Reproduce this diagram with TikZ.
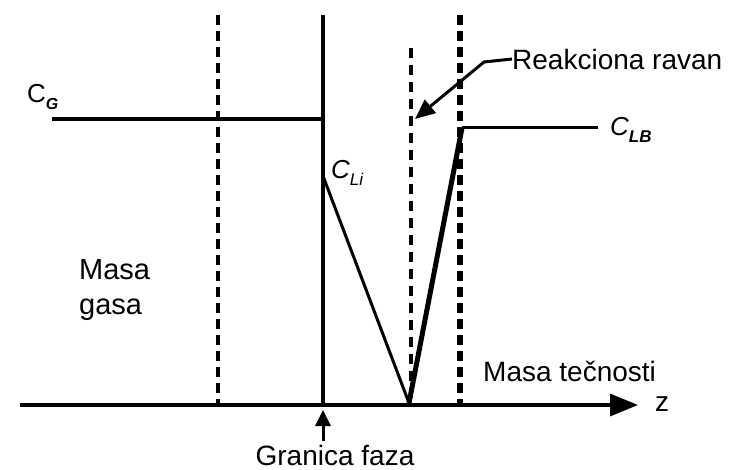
\documentclass[tikz,border=0pt]{standalone}
\usepackage{fontspec}
\setmainfont{Liberation Sans}
\usetikzlibrary{arrows.meta}
\begin{document}
\begin{tikzpicture}[x=1pt,y=-1pt,
  lbl/.style={inner sep=0pt, font=\fontsize{28}{32}\selectfont},
  pointer/.style={line width=3pt,-{Triangle[length=20pt,width=17pt]}}]
\useasboundingbox (0,0) rectangle (742,470);
% axis
\coordinate (a0) at (20,405);
\node[lbl] (z) at (662,404) {z};
\draw[line width=3.5pt,-{Triangle[length=28pt,width=22pt]}] (a0) -- (638,405);
% verticals
\coordinate (d1t) at (218,15); \coordinate (d1b) at (218,405);
\draw[line width=4.5pt, dash pattern=on 10pt off 6pt] (d1t) -- (d1b);
\coordinate (it) at (323,15); \coordinate (ib) at (323,405);
\draw[line width=3.5pt] (it) -- (ib);
\coordinate (rt) at (411,48); \coordinate (rb) at (411,405);
\draw[line width=4pt, dash pattern=on 10pt off 7pt] (rt) -- (rb);
\coordinate (d2t) at (460,15); \coordinate (d2b) at (460,405);
\draw[line width=5.5pt, dash pattern=on 10pt off 6pt] (d2t) -- (d2b);
% concentration profile
\coordinate (g0) at (52,119); \coordinate (g1) at (323,119);
\draw[line width=4.5pt] (g0) -- (g1);
\coordinate (li) at (323,176); \coordinate (bot) at (409,403);
\coordinate (lb) at (462,128); \coordinate (lb1) at (598,128);
\draw[line width=3pt] (li) -- (bot);
\draw[line width=5pt] (bot) -- (lb);
\draw[line width=3pt] (lb) -- (lb1);
% labels
\node[lbl, anchor=west] (cg) at (27,97) {\fontsize{26}{30}\selectfont C\raisebox{-7pt}{\fontsize{16}{18}\selectfont\bfseries\itshape G}};
\node[lbl, anchor=west] (cli) at (331,173) {\fontsize{26}{30}\selectfont\itshape C\raisebox{-7pt}{\fontsize{17}{18}\selectfont Li}};
\node[lbl, anchor=west] (clb) at (610,130) {\fontsize{26}{30}\selectfont\itshape C\raisebox{-7pt}{\fontsize{17}{18}\selectfont\bfseries LB}};
\node[lbl, anchor=west] (rr) at (512,59) {Reakciona ravan};
\coordinate (rk) at (484,62);
\draw[pointer] (rr.west) -- (rk) -- (415,119);
\node[lbl, align=left, anchor=west, font=\fontsize{29}{35}\selectfont] (mg) at (79,290) {Masa\\gasa};
\node[lbl, anchor=west] (mt) at (483,371) {Masa tečnosti};
\node[lbl] (gf) at (335,455) {Granica faza};
\draw[line width=3pt,-{Triangle[length=16pt,width=15pt]}] (323,441) -- (323,410);
\end{tikzpicture}
\end{document}
